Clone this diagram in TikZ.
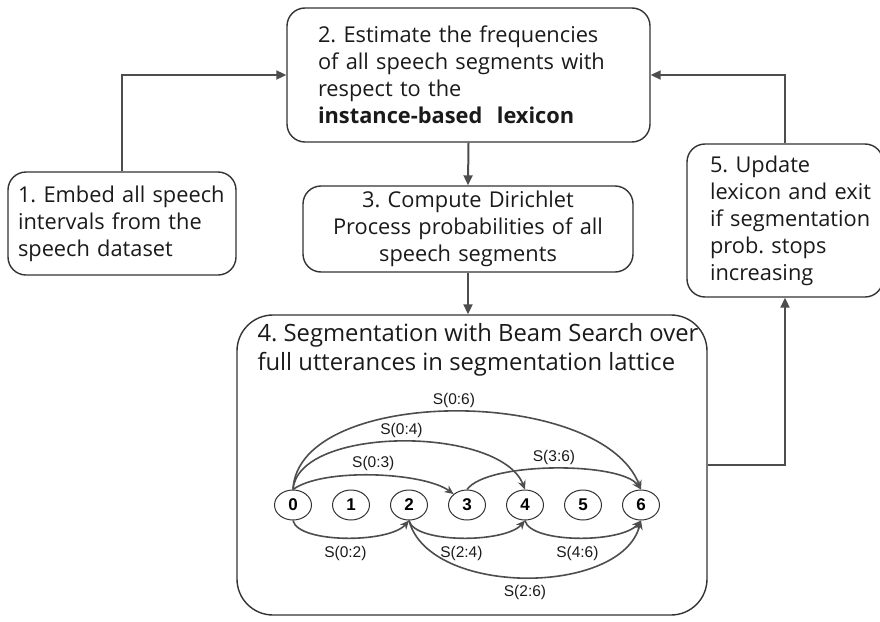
\documentclass[tikz,border=0pt]{standalone}
\usepackage{fontspec}
\setmainfont{Open Sans}
\newfontfamily\arialfont{Liberation Sans}
\usetikzlibrary{arrows.meta,shapes.geometric,positioning}
\definecolor{boxline}{HTML}{333333}
\definecolor{arrowgray}{HTML}{4D4D4D}
\definecolor{textdark}{HTML}{1A1A1A}
\frenchspacing
\begin{document}
\begin{tikzpicture}[x=1pt,y=-1pt,
    stepbox/.style={draw=boxline, line width=1.4pt, rounded corners=18pt, text=textdark,
                    font=\fontsize{21.8}{27}\selectfont, inner ysep=0pt},
    flow/.style={draw=arrowgray, line width=2pt, -{Triangle[length=10pt,width=9pt]}},
    lattice/.style={draw=boxline, ellipse, line width=1pt, minimum width=37pt, minimum height=30pt,
                    inner sep=0pt, font=\arialfont\bfseries\fontsize{17}{17}\selectfont},
    segarc/.style={draw=arrowgray, line width=1.6pt, -{Stealth[length=9pt,width=8pt]}},
    seglabel/.style={font=\arialfont\fontsize{15.5}{15.5}\selectfont, text=textdark}]
\useasboundingbox (0,0) rectangle (880,621);

% Drawing step 1
\node[stepbox, text width=208pt, inner xsep=10pt, minimum height=103pt, align=left] (embed) at (122,223.5)
    {1. Embed all speech\\intervals from the\\speech dataset};%

% Drawing step 2
\node[stepbox, text width=301pt, inner xsep=31pt, minimum height=134pt, align=left] (estimate) at (468.5,75)
    {2. Estimate the frequencies\\\mbox{of all speech segments with}\\respect to the\\\textbf{instance-based\ \ lexicon}};%

% Drawing step 3
\node[stepbox, text width=310pt, inner xsep=10pt, minimum height=86pt, align=center] (dirichlet) at (468,229)
    {3. Compute Dirichlet\\Process probabilities of all\\speech segments};%

% Drawing step 4 with its title
\node[stepbox, rounded corners=36pt, minimum width=470pt, minimum height=300pt] (beam) at (472,465) {};%
\node[font=\fontsize{23.8}{29}\selectfont, text=textdark, align=left, inner sep=0pt, anchor=north west,
      below right=9pt and 21pt of beam.north west] (beamtitle)
    {4. Segmentation with Beam Search over\\full utterances in segmentation lattice};%

% Drawing step 5
\node[stepbox, text width=150pt, inner xsep=23pt, minimum height=153pt, align=left] (update) at (785,220.5)
    {5. Update\\\mbox{lexicon and exit}\\\mbox{if segmentation}\\prob. stops\\increasing};%

% Drawing flow arrows
\draw[flow] (embed.north) |- (estimate.west);%
\draw[flow] (estimate.south) -- (dirichlet.north);%
\draw[flow] (dirichlet.south) -- (dirichlet.south |- beam.north);%
\draw[flow] (beam.east) -| (update.south);%
\draw[flow] (update.north) |- (estimate.east);%

% Marking lattice points 0..6
\foreach \i in {0,...,6}
    \node[lattice] (s\i) at (293+58*\i,505) {\i};%

% Drawing segments above the lattice
\draw[segarc] (s0.north) .. controls +(5,-104) and +(-40,-104) .. node[seglabel, above] (l06) {S(0:6)} (s6.north);%
\draw[segarc] (s0.north) .. controls +(5,-64) and +(-25,-64) .. node[seglabel, above] (l04) {S(0:4)} (s4.north);%
\draw[segarc] (s0.north) .. controls +(30,-22) and +(-30,-22) .. node[seglabel, above] (l03) {S(0:3)} (s3.north west);%
\draw[segarc] (s3.north) .. controls +(20,-28) and +(-20,-28) .. node[seglabel, above] (l36) {S(3:6)} (s6.north);%

% Drawing segments below the lattice
\draw[segarc] (s0.south) .. controls +(5,23) and +(-20,23) .. node[seglabel, below=4pt] (l02) {S(0:2)} (s2.south);%
\draw[segarc] (s2.south) .. controls +(5,23) and +(-20,23) .. node[seglabel, below=4pt] (l24) {S(2:4)} (s4.south);%
\draw[segarc] (s4.south) .. controls +(5,23) and +(-20,23) .. node[seglabel, below=4pt] (l46) {S(4:6)} (s6.south);%
\draw[segarc] (s2.south) .. controls +(20,76) and +(-20,76) .. node[seglabel, below=4pt] (l26) {S(2:6)} (s6.south);%
\end{tikzpicture}
\end{document}
